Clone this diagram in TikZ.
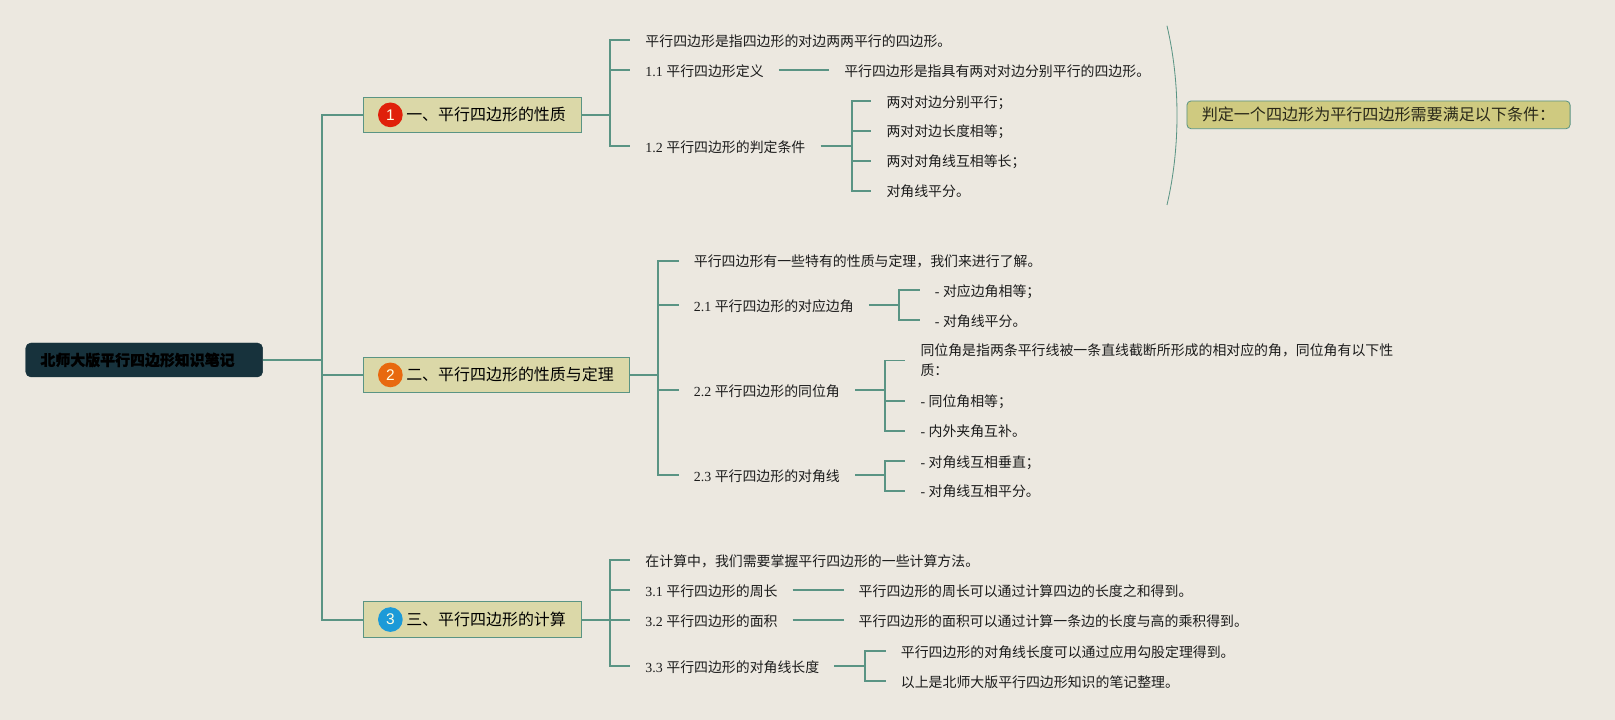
\documentclass[tikz,border=0pt]{standalone}
\usepackage{fontspec}
\setmainfont{Liberation Serif}
\newfontfamily\cjk{Noto Sans CJK SC}
\newfontfamily\badgefont{Liberation Sans}
\newcommand{\zh}[1]{{\cjk #1}}
\definecolor{bgc}{HTML}{ECE8E0}
\definecolor{linec}{HTML}{5A9484}
\definecolor{mainc}{HTML}{DBD8A8}
\definecolor{floatc}{HTML}{CFCA80}
\definecolor{rootc}{HTML}{17323C}
\definecolor{inkc}{HTML}{1C1C1C}
\definecolor{redc}{HTML}{E0200A}
\definecolor{orangec}{HTML}{E8690F}
\definecolor{bluec}{HTML}{1C9AD8}
\tikzset{
  txt/.style={anchor=west,inner xsep=14.5pt,inner ysep=1pt,text=inkc,font=\fontsize{13.5pt}{19pt}\selectfont,align=left,execute at begin node={\rule[-2pt]{0pt}{16pt}}},
  mainbox/.style={anchor=west,draw=linec,line width=0.9pt,fill=mainc,minimum height=34.5pt,inner xsep=0pt,inner ysep=0pt,text=black,font=\fontsize{15.5pt}{18pt}\selectfont},
  rootbox/.style={draw=rootc,fill=rootc,rounded corners=5pt,minimum width=230pt,minimum height=33pt,inner sep=0pt,text=black,font=\fontsize{14.5pt}{18pt}\selectfont\bfseries},
  floatbox/.style={anchor=west,draw=linec,line width=0.8pt,fill=floatc,rounded corners=4pt,minimum width=372pt,minimum height=27pt,inner sep=0pt,text=black!80!floatc,font=\fontsize{15.6pt}{18pt}\selectfont},
  badge/.style={circle,minimum size=24pt,inner sep=0pt,text=white!90!yellow,font=\badgefont\fontsize{15pt}{16pt}\selectfont},
  trunk/.style={draw=linec,line width=2pt},
  lnk/.style={draw=linec,line width=1.9pt},
  brk/.style={draw=linec,line width=0.8pt}
}
\begin{document}
\begin{tikzpicture}[x=1pt,y=-1pt]
\useasboundingbox (0,0) rectangle (1568,699);
\fill[bgc] (0,0) rectangle (1568,699);
% root and main topics
\node[rootbox] (root) at (140,349.5) {\zh{\addfontfeature{FakeBold=1}北师大版平行四边形知识笔记}\hspace{13pt}\mbox{}};
\node[mainbox] (m1) at (352,111.5) {\hspace{42pt}\zh{一、平行四边形的性质}\hspace{15pt}\mbox{}};
\node[mainbox] (m2) at (352,364) {\hspace{42pt}\zh{二、平行四边形的性质与定理}\hspace{15pt}\mbox{}};
\node[mainbox] (m3) at (352,601.5) {\hspace{42pt}\zh{三、平行四边形的计算}\hspace{15pt}\mbox{}};
\node[badge,fill=redc] (b1) at (379,111.5) {1};
\node[badge,fill=orangec] (b2) at (379,364) {2};
\node[badge,fill=bluec] (b3) at (379,601.5) {3};
\coordinate (tr) at (313,349.5);
\draw[trunk] (root.east) -- (tr);
\draw[trunk] (tr) |- (m1.west);
\draw[trunk] (tr) |- (m3.west);
\draw[trunk] (tr) |- (m2.west);
% branch 1
\coordinate (j1) at (592,111.5);
\node[txt] (a0) at (612,39) {\zh{平行四边形是指四边形的对边两两平行的四边形。}};
\node[txt] (a1) at (612,68) {1.1 \zh{平行四边形定义}};
\node[txt] (a1x) at (805,68) {\zh{平行四边形是指具有两对对边分别平行的四边形。}};
\node[txt] (a2) at (612,142) {1.2 \zh{平行四边形的判定条件}};
\coordinate (j1b) at (827,142);
\node[txt] (c1) at (846,98) {\zh{两对对边分别平行；}};
\node[txt] (c2) at (846,127) {\zh{两对对边长度相等；}};
\node[txt] (c3) at (846,156) {\zh{两对对角线互相等长；}};
\node[txt] (c4) at (846,185) {\zh{对角线平分。}};
\draw[lnk] (m1.east) -- (j1);
\draw[lnk] (j1) |- (a0.west);
\draw[lnk] (j1) |- (a1.west);
\draw[lnk] (j1) |- (a2.west);
\draw[lnk] (a1.east) -- (a1x.west);
\draw[lnk] (a2.east) -- (j1b);
\foreach \n in {c1,c2,c3,c4} \draw[lnk] (j1b) |- (\n.west);
% summary bracket
\coordinate (bt) at (1133,25);
\coordinate (bb) at (1133,199);
\draw[brk] (bt) .. controls (1146,80) and (1146,144) .. (bb);
\node[floatbox] (fl) at (1152,111.5) {\zh{判定一个四边形为平行四边形需要满足以下条件：}};
% branch 2
\coordinate (j2) at (639,364);
\node[txt] (d0) at (659,253) {\zh{平行四边形有一些特有的性质与定理，我们来进行了解。}};
\node[txt] (d1) at (659,296.5) {2.1 \zh{平行四边形的对应边角}};
\node[txt] (d2) at (659,379) {2.2 \zh{平行四边形的同位角}};
\node[txt] (d3) at (659,461.5) {2.3 \zh{平行四边形的对角线}};
\coordinate (j21) at (873,296.5);
\coordinate (j22) at (859,379);
\coordinate (j23) at (859,461.5);
\node[txt] (e1) at (893,282) {- \zh{对应边角相等；}};
\node[txt] (e2) at (893,311) {- \zh{对角线平分。}};
\node[txt] (f1) at (879,350) {\zh{同位角是指两条平行线被一条直线截断所形成的相对应的角，同位角有以下性}\\\zh{质：}};
\node[txt] (f2) at (879,389) {- \zh{同位角相等；}};
\node[txt] (f3) at (879,418) {- \zh{内外夹角互补。}};
\node[txt] (g1) at (879,447.5) {- \zh{对角线互相垂直；}};
\node[txt] (g2) at (879,476.5) {- \zh{对角线互相平分。}};
\draw[lnk] (m2.east) -- (j2);
\foreach \n in {d0,d1,d2,d3} \draw[lnk] (j2) |- (\n.west);
\draw[lnk] (d1.east) -- (j21);
\draw[lnk] (d2.east) -- (j22);
\draw[lnk] (d3.east) -- (j23);
\foreach \n in {e1,e2} \draw[lnk] (j21) |- (\n.west);
\foreach \n in {f1,f2,f3} \draw[lnk] (j22) |- (\n.west);
\foreach \n in {g1,g2} \draw[lnk] (j23) |- (\n.west);
% branch 3
\coordinate (j3) at (592,601.5);
\node[txt] (h0) at (612,544) {\zh{在计算中，我们需要掌握平行四边形的一些计算方法。}};
\node[txt] (h1) at (612,573) {3.1 \zh{平行四边形的周长}};
\node[txt] (h2) at (612,602) {3.2 \zh{平行四边形的面积}};
\node[txt] (h3) at (612,646.5) {3.3 \zh{平行四边形的对角线长度}};
\node[txt] (h1x) at (819,573) {\zh{平行四边形的周长可以通过计算四边的长度之和得到。}};
\node[txt] (h2x) at (819,602) {\zh{平行四边形的面积可以通过计算一条边的长度与高的乘积得到。}};
\coordinate (j33) at (840,646.5);
\node[txt] (k1) at (860,632) {\zh{平行四边形的对角线长度可以通过应用勾股定理得到。}};
\node[txt] (k2) at (860,661) {\zh{以上是北师大版平行四边形知识的笔记整理。}};
\draw[lnk] (m3.east) -- (j3);
\foreach \n in {h0,h1,h2,h3} \draw[lnk] (j3) |- (\n.west);
\draw[lnk] (h1.east) -- (h1x.west);
\draw[lnk] (h2.east) -- (h2x.west);
\draw[lnk] (h3.east) -- (j33);
\foreach \n in {k1,k2} \draw[lnk] (j33) |- (\n.west);
\end{tikzpicture}
\end{document}
